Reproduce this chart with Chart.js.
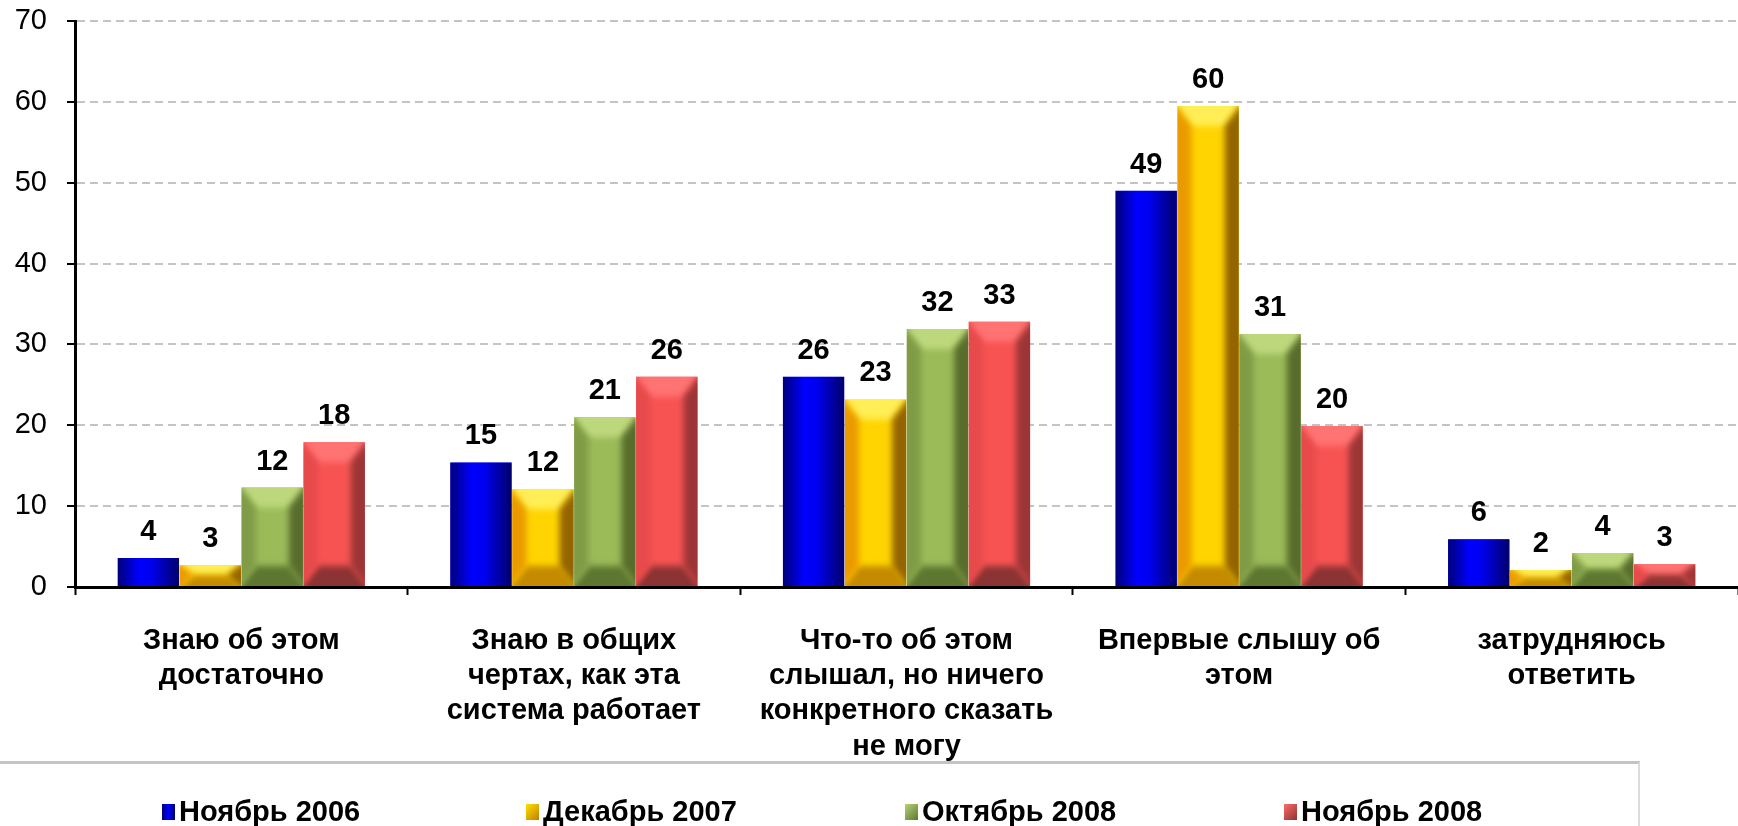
<!DOCTYPE html>
<html>
<head>
<meta charset="utf-8">
<script src="https://cdn.jsdelivr.net/npm/chart.js@4/dist/chart.umd.min.js"></script>
<style>
  body { margin: 0; background: #fff; overflow: hidden; }
  #wrap { position: relative; width: 1738px; height: 826px; }
  #legend {
    position: absolute; left: -4px; top: 761px; width: 1642px; height: 90px;
    border-top: 3px solid #c4c4c4; border-right: 2px solid #dcdcdc;
    font-family: "Liberation Sans", Arial, sans-serif; font-weight: bold; font-size: 29px;
  }
  .item { position: absolute; top: 31px; display: flex; align-items: center; white-space: nowrap; }
  .sw { width: 13px; height: 16px; margin-right: 4px; }
</style>
</head>
<body>
<div id="wrap">
  <canvas id="chart"></canvas>
  <div id="legend"></div>
</div>
<script>
const categories = [
    ['Знаю об этом', 'достаточно'],
    ['Знаю в общих', 'чертах, как эта', 'система работает'],
    ['Что-то об этом', 'слышал, но ничего', 'конкретного сказать', 'не могу'],
    ['Впервые слышу об', 'этом'],
    ['затрудняюсь', 'ответить']
];
const seriesNames = ['Ноябрь 2006', 'Декабрь 2007', 'Октябрь 2008', 'Ноябрь 2008'];
const nov2006 = [3.6, 15.4, 26.0, 49.0, 5.9];
const dec2007 = [2.7, 12.1, 23.2, 59.5, 2.1];
const oct2008 = [12.3, 21.0, 31.9, 31.3, 4.2];
const nov2008 = [17.9, 26.0, 32.8, 19.9, 2.8];
const yMin = 0, yMax = 70, yStep = 10;

// face / top / bottom / left / right shades for each series
const shades = [
    {face: '#0000ff', top: null},
    {face: '#ffd400', top: '#ffee55', bottom: '#c58a00', left: '#ea9a00', right: '#946400'},
    {face: '#9bbb59', top: '#bdd87c', bottom: '#5d7730', left: '#7f9b46', right: '#586d2c'},
    {face: '#f85353', top: '#ff7373', bottom: '#8c3333', left: '#e64a4a', right: '#9c3636'}
];

const font = '"Liberation Sans", Arial, sans-serif';

const barLook = {
    id: 'barLook',
    afterDatasetsDraw(chart) {
        const ctx = chart.ctx;
        chart.data.datasets.forEach((ds, i) => {
            const meta = chart.getDatasetMeta(i);
            const sh = shades[i];
            meta.data.forEach((bar, j) => {
                const p = bar.getProps(['x', 'y', 'base', 'width'], true);
                const l = p.x - p.width / 2, r = p.x + p.width / 2, t = p.y, b = p.base;
                const h = b - t;
                ctx.save();
                ctx.beginPath();
                ctx.rect(l, t, r - l, h);
                ctx.clip();
                if (i === 0) {
                    const g = ctx.createLinearGradient(l, 0, r, 0);
                    g.addColorStop(0, '#00007a');
                    g.addColorStop(0.35, '#0000ff');
                    g.addColorStop(0.55, '#0000f0');
                    g.addColorStop(1, '#00006a');
                    ctx.fillStyle = g;
                    ctx.fillRect(l, t, r - l, h);
                } else {
                    const s = 14, v = Math.min(20, h / 2);
                    ctx.filter = 'blur(3px)';
                    const poly = (pts, c) => {
                        ctx.beginPath();
                        pts.forEach((q, k) => k ? ctx.lineTo(q[0], q[1]) : ctx.moveTo(q[0], q[1]));
                        ctx.closePath();
                        ctx.fillStyle = c;
                        ctx.fill();
                    };
                    poly([[l - 6, t - 6], [r + 6, t - 6], [r - s, t + v], [l + s, t + v]], sh.top);
                    poly([[l - 6, b + 6], [r + 6, b + 6], [r - s, b - v], [l + s, b - v]], sh.bottom);
                    poly([[l - 6, t - 6], [l + s, t + v], [l + s, b - v], [l - 6, b + 6]], sh.left);
                    poly([[r + 6, t - 6], [r - s, t + v], [r - s, b - v], [r + 6, b + 6]], sh.right);
                }
                ctx.restore();
                // value label
                ctx.save();
                ctx.font = 'bold 29px ' + font;
                ctx.fillStyle = '#000';
                ctx.textAlign = 'center';
                ctx.textBaseline = 'alphabetic';
                ctx.fillText(String(Math.round(ds.data[j])), p.x, t - 18);
                ctx.restore();
            });
        });
    }
};

const values = [nov2006, dec2007, oct2008, nov2008];

new Chart(document.getElementById('chart'), {
    type: 'bar',
    data: {
        labels: categories,
        datasets: seriesNames.map((name, i) => ({
            label: name,
            data: values[i],
            backgroundColor: shades[i].face,
            borderWidth: 0,
            barPercentage: 0.99,
            categoryPercentage: 0.745
        }))
    },
    options: {
        responsive: true,
        maintainAspectRatio: false,
        animation: false,
        layout: { padding: { top: 21, right: -6, bottom: 0, left: 0 } },
        plugins: { legend: { display: false }, tooltip: { enabled: false } },
        scales: {
            x: {
                afterFit: scale => { scale.height = 239; scale.paddingLeft = 0; scale.paddingRight = 0; },
                grid: { drawOnChartArea: false, drawTicks: true, tickLength: 8, tickColor: '#000', tickWidth: 2, offset: true },
                border: { color: '#000', width: 3 },
                ticks: {
                    color: '#000', padding: 28, maxRotation: 0, autoSkip: false,
                    font: { family: font, size: 29, weight: 'bold', lineHeight: 1.22 }
                }
            },
            y: {
                min: yMin, max: yMax,
                afterFit: scale => { scale.width = 75; scale.paddingTop = 0; scale.paddingBottom = 0; },
                grid: { color: '#c4c4c4', lineWidth: 2, tickColor: '#000', tickWidth: 2, tickLength: 8, tickBorderDash: [] },
                border: { color: '#000', width: 3, dash: [8, 5] },
                ticks: { stepSize: yStep, color: '#000', padding: 20, font: { family: font, size: 29 } }
            }
        }
    },
    plugins: [barLook]
});

const legendLeft = [166, 530, 909, 1288];
const swatch = [
    'linear-gradient(90deg,#00007a,#0000ff,#00006a)',
    'linear-gradient(135deg,#ffe000,#c08000)',
    'linear-gradient(135deg,#b5d477,#5d7730)',
    'linear-gradient(135deg,#ff6b6b,#8c3333)'
];
const legend = document.getElementById('legend');
seriesNames.forEach((name, i) => {
    const it = document.createElement('div');
    it.className = 'item';
    it.style.left = legendLeft[i] + 'px';
    it.innerHTML = '<span class="sw" style="background:' + swatch[i] + '"></span><span>' + name + '</span>';
    legend.appendChild(it);
});
</script>
</body>
</html>
